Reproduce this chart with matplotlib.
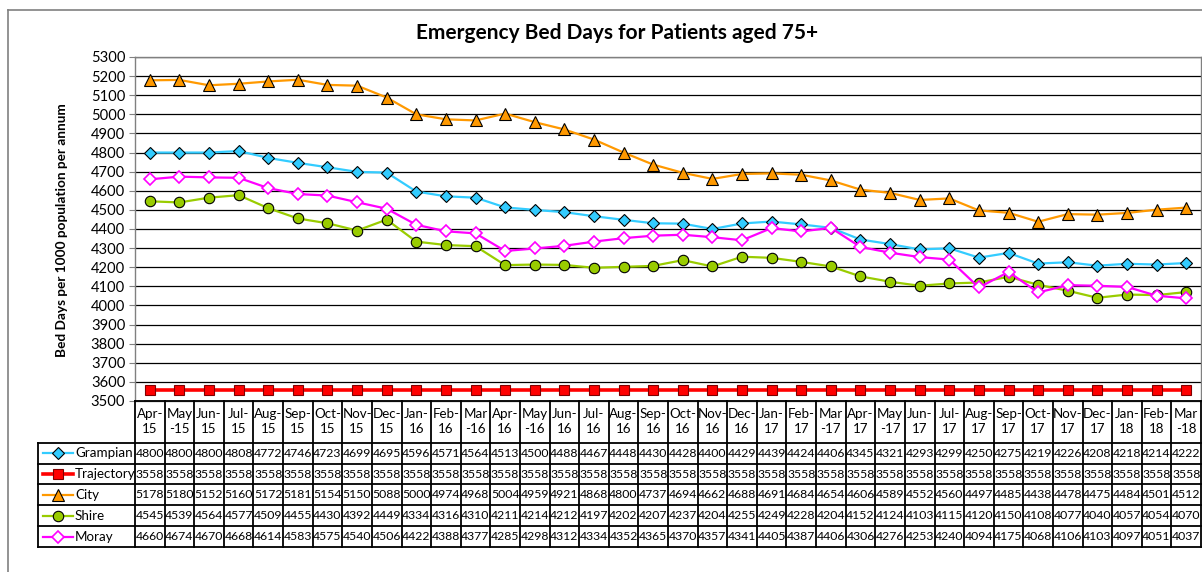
import matplotlib
matplotlib.use("Agg")
import matplotlib.pyplot as plt
from matplotlib.lines import Line2D

plt.rcParams['font.family'] = ['Lato', 'DejaVu Sans']

months = ["Apr-\n15", "May\n-15", "Jun-\n15", "Jul-\n15", "Aug-\n15", "Sep-\n15", "Oct-\n15", "Nov-\n15", "Dec-\n15",
          "Jan-\n16", "Feb-\n16", "Mar\n-16", "Apr-\n16", "May\n-16", "Jun-\n16", "Jul-\n16", "Aug-\n16", "Sep-\n16",
          "Oct-\n16", "Nov-\n16", "Dec-\n16", "Jan-\n17", "Feb-\n17", "Mar\n-17", "Apr-\n17", "May\n-17", "Jun-\n17",
          "Jul-\n17", "Aug-\n17", "Sep-\n17", "Oct-\n17", "Nov-\n17", "Dec-\n17", "Jan-\n18", "Feb-\n18", "Mar\n-18"]

grampian = [4800, 4800, 4800, 4808, 4772, 4746, 4723, 4699, 4695, 4596, 4571, 4564, 4513, 4500, 4488, 4467, 4448, 4430,
            4428, 4400, 4429, 4439, 4424, 4406, 4345, 4321, 4293, 4299, 4250, 4275, 4219, 4226, 4208, 4218, 4214, 4222]
trajectory = [3558] * 36
city = [5178, 5180, 5152, 5160, 5172, 5181, 5154, 5150, 5088, 5000, 4974, 4968, 5004, 4959, 4921, 4868, 4800, 4737,
        4694, 4662, 4688, 4691, 4684, 4654, 4606, 4589, 4552, 4560, 4497, 4485, 4438, 4478, 4475, 4484, 4501, 4512]
shire = [4545, 4539, 4564, 4577, 4509, 4455, 4430, 4392, 4449, 4334, 4316, 4310, 4211, 4214, 4212, 4197, 4202, 4207,
         4237, 4204, 4255, 4249, 4228, 4204, 4152, 4124, 4103, 4115, 4120, 4150, 4108, 4077, 4040, 4057, 4054, 4070]
moray = [4660, 4674, 4670, 4668, 4614, 4583, 4575, 4540, 4506, 4422, 4388, 4377, 4285, 4298, 4312, 4334, 4352, 4365,
         4370, 4357, 4341, 4405, 4387, 4406, 4306, 4276, 4253, 4240, 4094, 4175, 4068, 4106, 4103, 4097, 4051, 4037]

series_names = ["Grampian", "Trajectory", "City", "Shire", "Moray"]
series_data = [grampian, trajectory, city, shire, moray]

styles = {
    "Grampian": dict(color="#33CCFF", lw=1.6, marker="D", ms=6, mfc="#33CCFF", mec="#000000", mew=0.8),
    "Trajectory": dict(color="#FF0000", lw=2.6, marker="s", ms=6.5, mfc="#FF0000", mec="#800000", mew=0.8),
    "City": dict(color="#FF9900", lw=1.6, marker="^", ms=8, mfc="#FF9900", mec="#000000", mew=0.8),
    "Shire": dict(color="#99CC00", lw=1.6, marker="o", ms=7.5, mfc="#99CC00", mec="#000000", mew=0.8),
    "Moray": dict(color="#FF00FF", lw=1.6, marker="D", ms=6, mfc="#FFFFFF", mec="#FF00FF", mew=1.2),
}

W, H = 1202, 572
fig = plt.figure(figsize=(W / 100, H / 100), dpi=100)

def fx(px):
    return px / W

def fy(py):
    return 1 - py / H

# outer chart border
fig.add_artist(Line2D([fx(8), fx(8)], [fy(10), fy(572)], color="#808080", lw=1.2))
fig.add_artist(Line2D([fx(8), fx(1202)], [fy(10), fy(10)], color="#808080", lw=1.2))

ax_left, ax_right, ax_top, ax_bot = 135, 1201, 57, 401
ax = fig.add_axes([fx(ax_left), fy(ax_bot), fx(ax_right - ax_left), (ax_bot - ax_top) / H])
x = list(range(len(months)))
for name, data in zip(series_names, series_data):
    ax.plot(x, data, zorder=3 if name != "Trajectory" else 2.5, **styles[name])

ax.set_xlim(-0.5, len(months) - 0.5)
ax.set_ylim(3500, 5300)
ax.set_yticks(range(3500, 5301, 100))
ax.tick_params(axis="y", labelsize=10.6, length=4, width=0.8, color="#808080", pad=3)
ax.set_xticks([])
ax.grid(axis="y", color="#000000", lw=0.9)
ax.set_axisbelow(True)
for sp in ax.spines.values():
    sp.set_color("#808080")
    sp.set_linewidth(1.0)

fig.text(fx(617), fy(33), "Emergency Bed Days for Patients aged 75+", ha="center", va="center",
         fontsize=15, fontweight="bold")
fig.text(fx(62), fy(230), "Bed Days per 1000 population per annum", ha="center", va="center",
         rotation=90, fontsize=9.8, fontweight="bold")

# data table
tbl_top, tbl_bot = 401, 547
tax = fig.add_axes([fx(ax_left), fy(tbl_bot), fx(ax_right - ax_left), (tbl_bot - tbl_top) / H])
tax.set_xlim(-0.5, len(months) - 0.5)
tax.set_ylim(7, 0)
tax.axis("off")
col_w = (ax_right - ax_left) / len(months)
label_left = -0.5 - (ax_left - 38) / col_w
lc = "#000000"
tlw = 1.3
# header
for i, m in enumerate(months):
    tax.text(i, 1.0, m, ha="center", va="center", fontsize=9.6, linespacing=1.3)
# vertical lines
for i in range(len(months) + 1):
    tax.plot([i - 0.5, i - 0.5], [0, 7], color=lc, lw=tlw, clip_on=False)
tax.plot([label_left, label_left], [2, 7], color=lc, lw=tlw, clip_on=False)
# horizontal lines
tax.plot([-0.5, len(months) - 0.5], [0, 0], color=lc, lw=tlw, clip_on=False)
for r in range(2, 8):
    tax.plot([label_left, len(months) - 0.5], [r, r], color=lc, lw=tlw, clip_on=False)

key_x0 = label_left + (43 - 38) / col_w
key_x1 = label_left + (73 - 38) / col_w
text_x = label_left + (75 - 38) / col_w
for r, (name, data) in enumerate(zip(series_names, series_data)):
    yc = 2.5 + r
    st = dict(styles[name])
    st["markevery"] = [1]
    tax.plot([key_x0, (key_x0 + key_x1) / 2, key_x1], [yc, yc, yc], clip_on=False, **st)
    tax.text(text_x, yc, name, ha="left", va="center", fontsize=9.6)
    for i, v in enumerate(data):
        tax.text(i, yc, str(v), ha="center", va="center", fontsize=8.8)

fig.savefig("out.png", dpi=100)
